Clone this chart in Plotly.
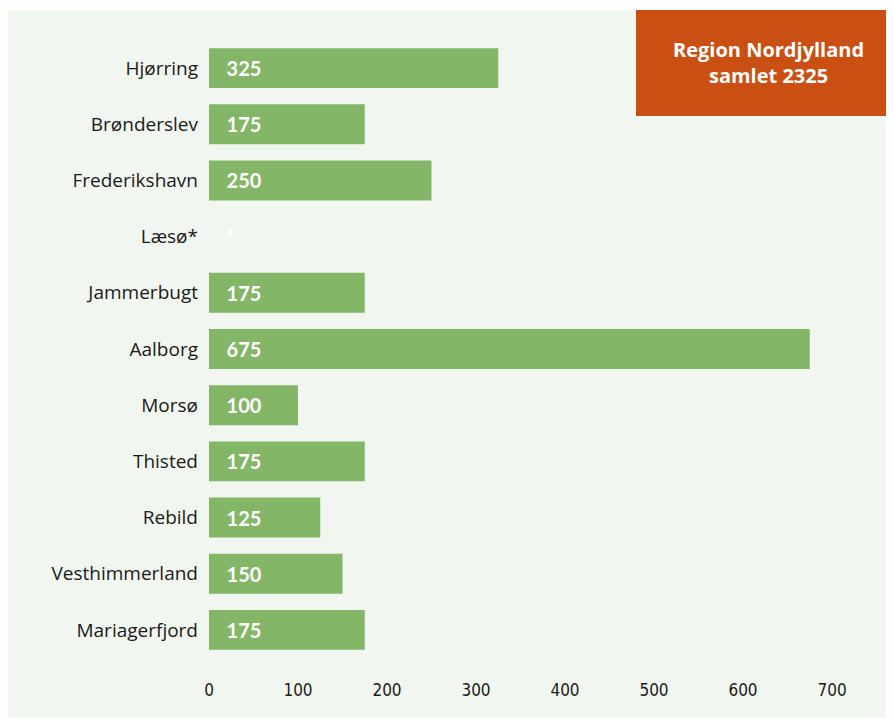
import plotly.graph_objects as go

# Data
KOMMUNER = [
    "Hjørring", "Brønderslev", "Frederikshavn", "Læsø*", "Jammerbugt", "Aalborg",
    "Morsø", "Thisted", "Rebild", "Vesthimmerland", "Mariagerfjord",
]
VAERDIER = [325, 175, 250, 0, 175, 675, 100, 175, 125, 150, 175]
ETIKETTER = ["325", "175", "250", "*", "175", "675", "100", "175", "125", "150", "175"]
X_TICKS = [0, 100, 200, 300, 400, 500, 600, 700]
BOX_TEXT = "Region Nordjylland<br>samlet 2325"

BAR_COLOR = "#83B667"
PANEL_COLOR = "#F2F6F0"
BOX_COLOR = "#C94F12"
LABEL_FONT = "'Open Sans', Lato, sans-serif"
BAR_FONT = "Lato, sans-serif"
TICK_FONT = "'DejaVu Sans Condensed', 'Liberation Sans Narrow', sans-serif"

PAD = "\u00a0\u00a0\u00a0"
texts = [PAD + t for t in ETIKETTER]
positions = ["outside" if v == 0 else "inside" for v in VAERDIER]

fig = go.Figure(
    go.Bar(
        x=VAERDIER,
        y=KOMMUNER,
        orientation="h",
        marker=dict(color=BAR_COLOR, line=dict(width=0)),
        width=0.71,
        text=texts,
        textposition=positions,
        insidetextanchor="start",
        constraintext="none",
        textfont=dict(family=BAR_FONT, size=20, color="white", weight="bold"),
        cliponaxis=False,
        hoverinfo="skip",
    )
)

fig.update_xaxes(
    range=[0, 724.7],
    tickvals=X_TICKS,
    showgrid=False,
    zeroline=False,
    showline=False,
    ticks="outside",
    ticklen=17,
    tickcolor="rgba(0,0,0,0)",
    tickfont=dict(family=TICK_FONT, size=17, color="#1a1a1a"),
)
fig.update_yaxes(
    categoryorder="array",
    categoryarray=KOMMUNER[::-1],
    range=[-0.5, 10.5],
    showgrid=False,
    zeroline=False,
    showline=False,
    ticks="",
    ticklabelstandoff=10,
    tickfont=dict(family=LABEL_FONT, size=19, color="#1a1a1a"),
)

# page has an 8px body margin, so the figure is 886x714 and offsets are relative to that
fig.update_layout(
    width=886,
    height=714,
    margin=dict(l=201, r=40, t=32, b=64),
    paper_bgcolor="white",
    plot_bgcolor=PANEL_COLOR,
    showlegend=False,
    shapes=[
        # light panel behind the chart
        dict(type="rect", xref="paper", yref="paper",
             x0=(8 - 209) / 645, x1=(894 - 209) / 645,
             y0=(658 - 718) / 618, y1=(658 - 10) / 618,
             fillcolor=PANEL_COLOR, line=dict(width=0), layer="below"),
        # orange total box
        dict(type="rect", xref="paper", yref="paper",
             x0=(636 - 209) / 645, x1=(894 - 209) / 645,
             y0=(658 - 116) / 618, y1=(658 - 10) / 618,
             fillcolor=BOX_COLOR, line=dict(width=0), layer="above"),
    ],
    annotations=[
        dict(x=(768 - 209) / 645, y=(658 - 63) / 618, xref="paper", yref="paper",
             xanchor="center", yanchor="middle",
             text=BOX_TEXT, showarrow=False, align="center",
             font=dict(family=LABEL_FONT, size=20, color="white", weight="bold")),
    ],
)

fig.write_html("out.html")
